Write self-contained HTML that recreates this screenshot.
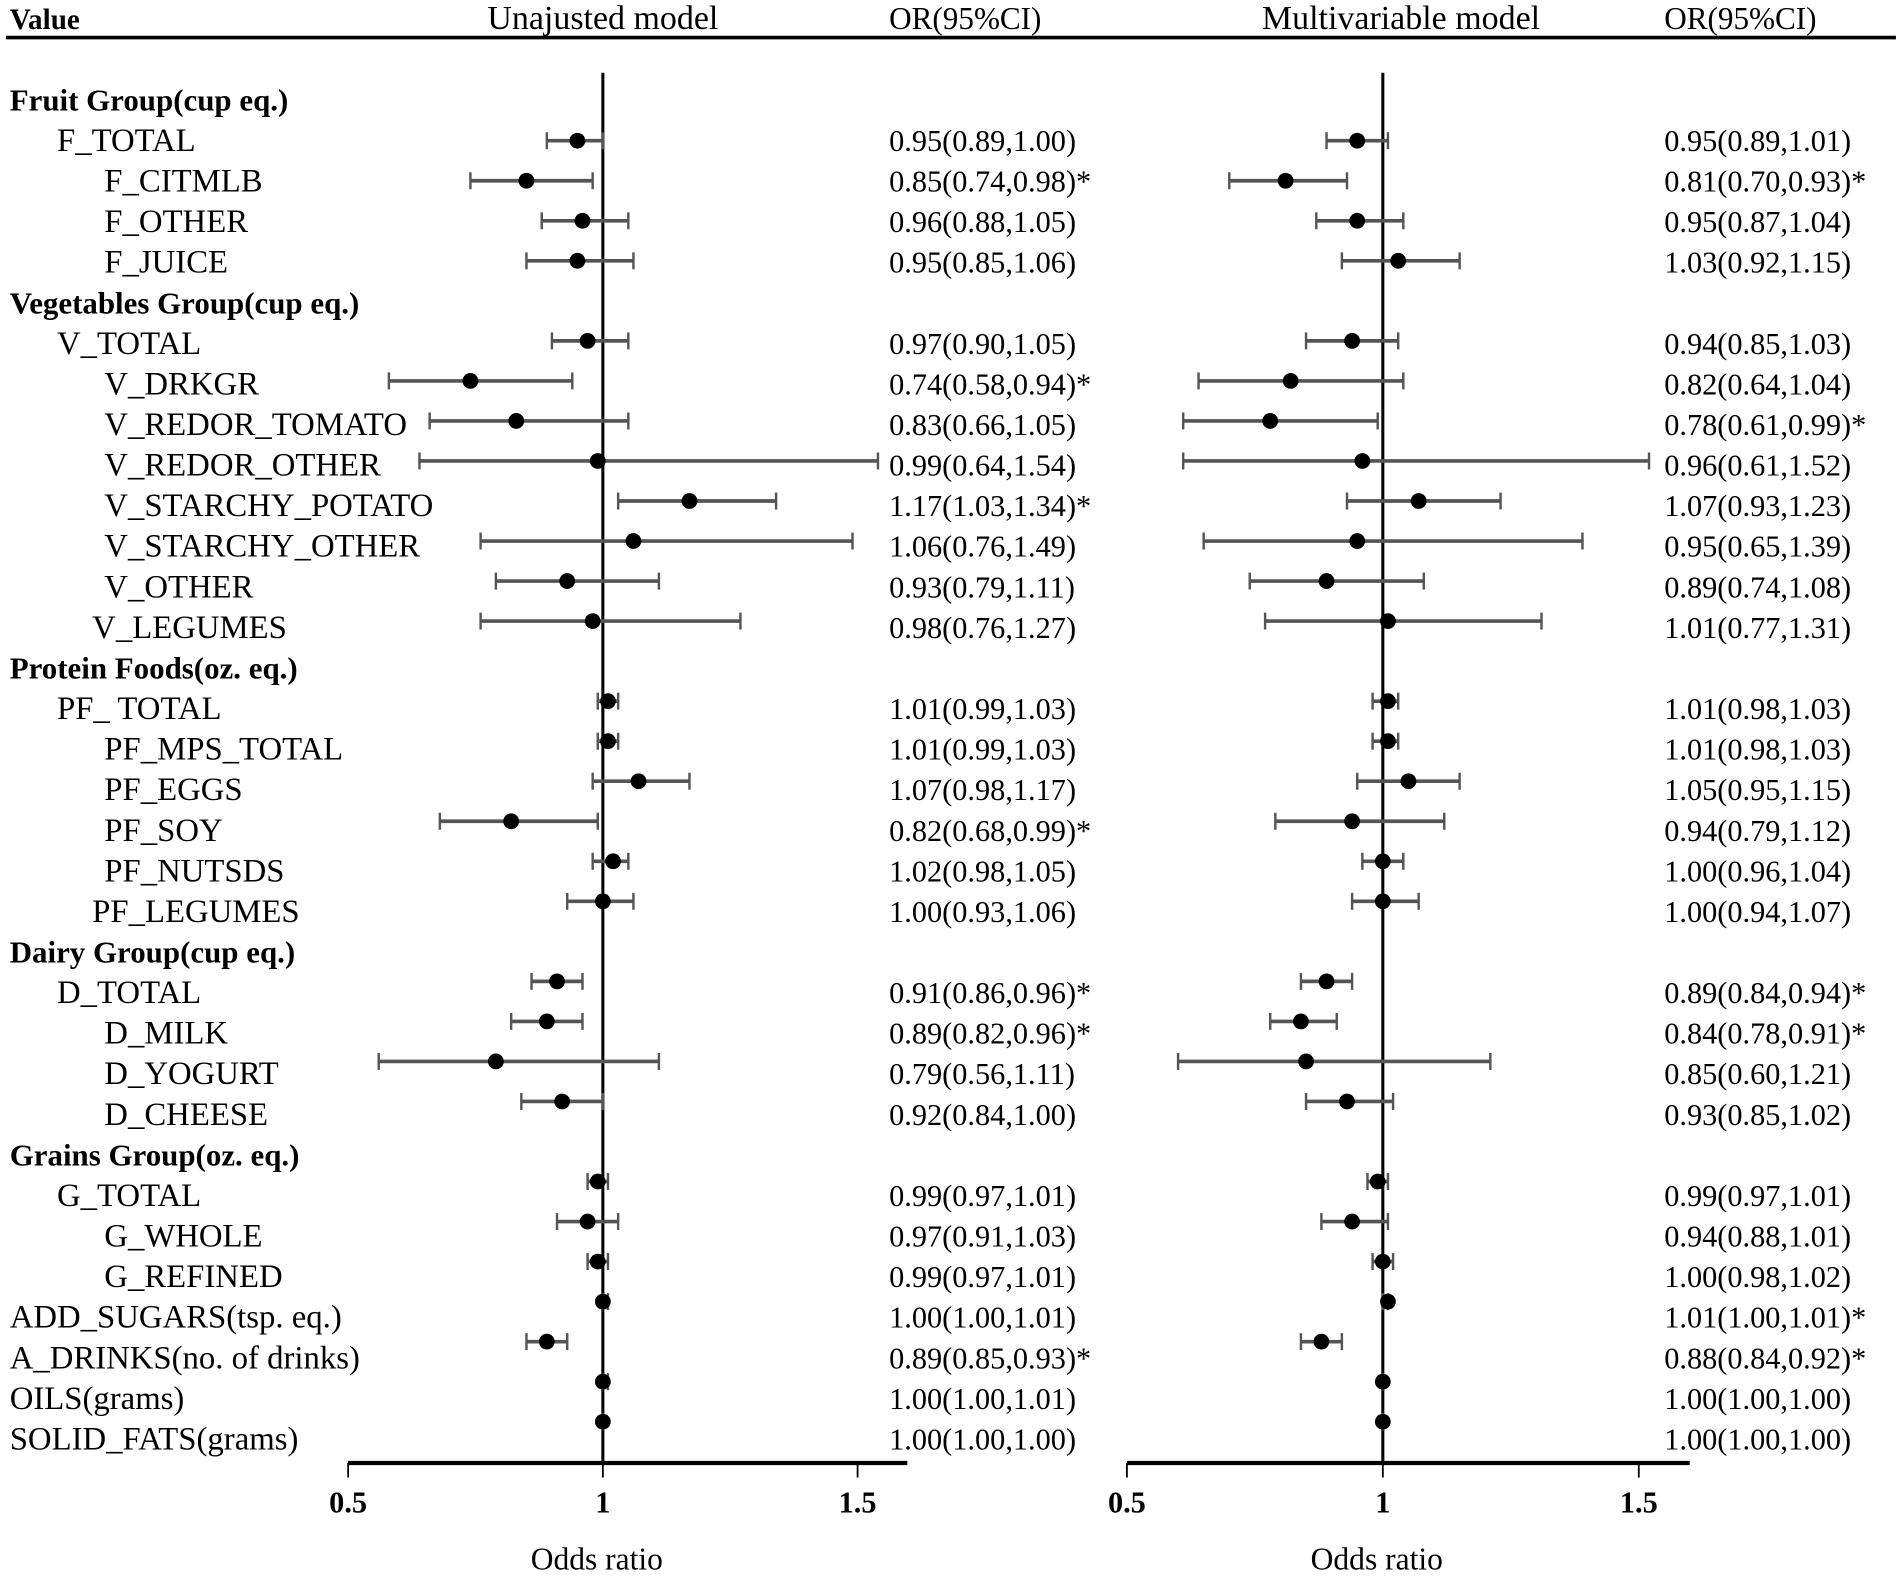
<!DOCTYPE html>
<html><head><meta charset="utf-8"><style>
html,body{margin:0;padding:0;background:#fff}
svg{display:block}
text{font-family:"Liberation Serif",serif;fill:#000}
</style></head><body>
<svg id="chart" width="1902" height="1577" viewBox="0 0 1568 1300" preserveAspectRatio="none" xmlns="http://www.w3.org/2000/svg">
<g>
<text x="8" y="24" font-size="24" font-weight="bold">Value</text>
<text x="497" y="24" font-size="28" text-anchor="middle">Unajusted model</text>
<text x="733" y="24" font-size="25.7">OR(95%CI)</text>
<text x="1155" y="24" font-size="28" text-anchor="middle">Multivariable model</text>
<text x="1372" y="24" font-size="25.7">OR(95%CI)</text>
<line x1="5" x2="1563" y1="31" y2="31" stroke="#000" stroke-width="3"/>
</g>
<g id="rows"></g>
<g id="marks"></g>
</svg>
<script>
const labels = ["Fruit Group(cup eq.)","F_TOTAL","F_CITMLB","F_OTHER","F_JUICE","Vegetables Group(cup eq.)","V_TOTAL","V_DRKGR","V_REDOR_TOMATO","V_REDOR_OTHER","V_STARCHY_POTATO","V_STARCHY_OTHER","V_OTHER","V_LEGUMES","Protein Foods(oz. eq.)","PF_ TOTAL","PF_MPS_TOTAL","PF_EGGS","PF_SOY","PF_NUTSDS","PF_LEGUMES","Dairy Group(cup eq.)","D_TOTAL","D_MILK","D_YOGURT","D_CHEESE","Grains Group(oz. eq.)","G_TOTAL","G_WHOLE","G_REFINED","ADD_SUGARS(tsp. eq.)","A_DRINKS(no. of drinks)","OILS(grams)","SOLID_FATS(grams)"];
const levels = [0,1,2,2,2,0,1,2,2,2,2,2,2,3,0,1,2,2,2,2,3,0,1,2,2,2,0,1,2,2,4,4,4,4];
const uOR = [null,0.95,0.85,0.96,0.95,null,0.97,0.74,0.83,0.99,1.17,1.06,0.93,0.98,null,1.01,1.01,1.07,0.82,1.02,1.00,null,0.91,0.89,0.79,0.92,null,0.99,0.97,0.99,1.00,0.89,1.00,1.00];
const uLo = [null,0.89,0.74,0.88,0.85,null,0.90,0.58,0.66,0.64,1.03,0.76,0.79,0.76,null,0.99,0.99,0.98,0.68,0.98,0.93,null,0.86,0.82,0.56,0.84,null,0.97,0.91,0.97,1.00,0.85,1.00,1.00];
const uHi = [null,1.00,0.98,1.05,1.06,null,1.05,0.94,1.05,1.54,1.34,1.49,1.11,1.27,null,1.03,1.03,1.17,0.99,1.05,1.06,null,0.96,0.96,1.11,1.00,null,1.01,1.03,1.01,1.01,0.93,1.01,1.00];
const uSig = [0,0,1,0,0,0,0,1,0,0,1,0,0,0,0,0,0,0,1,0,0,0,1,1,0,0,0,0,0,0,0,1,0,0];
const mOR = [null,0.95,0.81,0.95,1.03,null,0.94,0.82,0.78,0.96,1.07,0.95,0.89,1.01,null,1.01,1.01,1.05,0.94,1.00,1.00,null,0.89,0.84,0.85,0.93,null,0.99,0.94,1.00,1.01,0.88,1.00,1.00];
const mLo = [null,0.89,0.70,0.87,0.92,null,0.85,0.64,0.61,0.61,0.93,0.65,0.74,0.77,null,0.98,0.98,0.95,0.79,0.96,0.94,null,0.84,0.78,0.60,0.85,null,0.97,0.88,0.98,1.00,0.84,1.00,1.00];
const mHi = [null,1.01,0.93,1.04,1.15,null,1.03,1.04,0.99,1.52,1.23,1.39,1.08,1.31,null,1.03,1.03,1.15,1.12,1.04,1.07,null,0.94,0.91,1.21,1.02,null,1.01,1.01,1.02,1.01,0.92,1.00,1.00];
const mSig = [0,0,1,0,0,0,0,0,1,0,0,0,0,0,0,0,0,0,0,0,0,0,1,1,0,0,0,0,0,0,1,1,0,0];
const ticks = [0.5,1,1.5];

const NS="http://www.w3.org/2000/svg";
const rows=document.getElementById('rows'), marks=document.getElementById('marks');
function mk(tag,attrs,parent){const e=document.createElementNS(NS,tag);for(const k in attrs)e.setAttribute(k,attrs[k]);parent.appendChild(e);return e;}
const indent=[8,47,86,76,8];
const textY=i=>82+i*33.45+9;
const dotY=i=>116+(i-1)*33.0;
const xL=v=>497+(v-1)*420;
const xR=v=>1140+(v-1)*422;
const fmt=v=>v.toFixed(2);

labels.forEach((lab,i)=>{
  const t=mk('text',{x:indent[levels[i]],y:textY(i),'font-size':levels[i]===0?25.5:27},rows);
  
  
  if(levels[i]===0)t.setAttribute('font-weight','bold');
  t.textContent=lab;
  if(uOR[i]===null)return;
  const a=mk('text',{x:733,y:textY(i),'font-size':25},rows);
  
  
  a.textContent=fmt(uOR[i])+'('+fmt(uLo[i])+','+fmt(uHi[i])+')'+(uSig[i]?'*':'');
  const b=mk('text',{x:1372,y:textY(i),'font-size':25},rows);
  
  
  b.textContent=fmt(mOR[i])+'('+fmt(mLo[i])+','+fmt(mHi[i])+')'+(mSig[i]?'*':'');
});

function panel(xf,x0,x1,OR,LO,HI,name){
  const g=mk('g',{},marks);
  
  
  const ref=mk('line',{x1:xf(1),x2:xf(1),y1:60,y2:1206,stroke:'#000','stroke-width':2.5},g);
  
  
  OR.forEach((v,i)=>{
    if(v===null)return;
    const y=dotY(i);
    const ci=mk('g',{stroke:'#555','stroke-width':3},g);
    
    
    mk('line',{x1:xf(LO[i]),x2:xf(HI[i]),y1:y,y2:y},ci);
    mk('line',{x1:xf(LO[i]),x2:xf(LO[i]),y1:y-7,y2:y+7,'stroke-width':2},ci);
    mk('line',{x1:xf(HI[i]),x2:xf(HI[i]),y1:y-7,y2:y+7,'stroke-width':2},ci);
    const c=mk('circle',{cx:xf(v),cy:y,r:6.5,fill:'#000'},g);
    
    
  });
  const ax=mk('line',{x1:x0,x2:x1,y1:1206,y2:1206,stroke:'#000','stroke-width':3.5},g);
  
  
  ticks.forEach(t=>{
    mk('line',{x1:xf(t),x2:xf(t),y1:1206,y2:1218,stroke:'#000','stroke-width':1.5},g);
    const tl=mk('text',{x:xf(t),y:1247,'font-size':25,'font-weight':'bold','text-anchor':'middle',fill:'#444'},g);
    
    
    tl.textContent=String(t);
  });
  const at=mk('text',{x:xf(1)-5,y:1294,'font-size':26,'text-anchor':'middle'},g);
  
  
  at.textContent='Odds ratio';
}
panel(xL,287,748,uOR,uLo,uHi,'unadjusted-panel');
panel(xR,929,1393,mOR,mLo,mHi,'multivariable-panel');
</script>
</body></html>
